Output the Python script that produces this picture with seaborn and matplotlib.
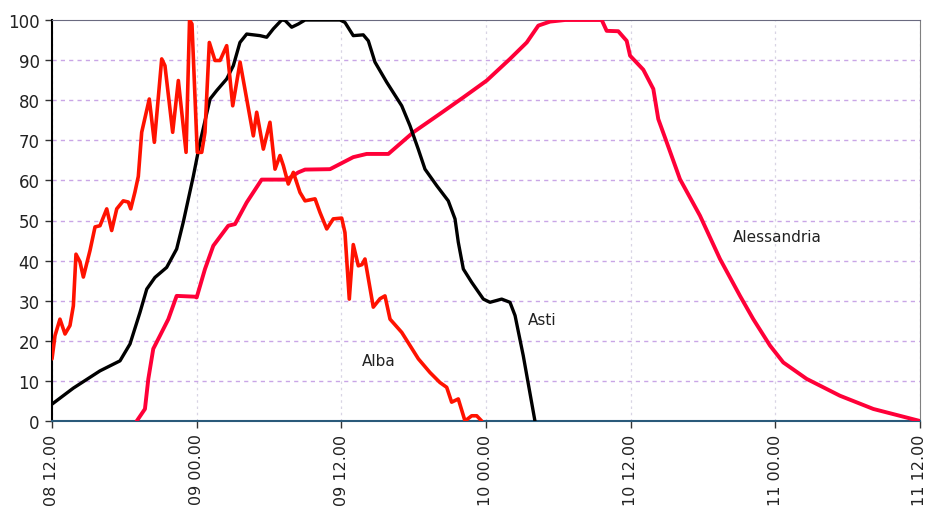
import numpy as np
import pandas as pd
import seaborn as sns
import matplotlib.pyplot as plt
import matplotlib.dates as mdates

# hours after 08 12.00, values in %
alba_h = [0.0, 0.25, 0.66, 1.08, 1.49, 1.77, 1.99, 2.32, 2.60, 3.15, 3.57, 3.98, 4.54, 4.95,
          5.37, 5.91, 6.33, 6.53, 6.88, 7.16, 7.44, 8.07, 8.49, 9.10, 9.37, 10.01, 10.48,
          11.12, 11.41, 11.61, 12.05, 12.42, 12.69, 13.05, 13.52, 13.94, 14.49, 14.99,
          15.60, 16.15, 16.70, 16.98, 17.53, 18.08, 18.50, 18.91, 19.19, 19.60, 20.02,
          20.57, 20.99, 21.82, 22.23, 22.79, 23.33, 24.03, 24.30, 24.66, 24.99, 25.41,
          25.71, 25.96, 26.65, 27.21, 27.62, 28.04, 29.01, 30.39, 31.35, 32.18, 32.74,
          33.15, 33.70, 34.26, 34.81, 35.23, 35.64]
alba_v = [15.5, 21.3, 25.4, 21.7, 23.8, 28.7, 41.6, 39.7, 35.9, 42.5, 48.4, 48.7, 52.9, 47.5,
          52.9, 54.9, 54.6, 52.9, 57.1, 61.0, 72.0, 80.3, 69.5, 90.3, 88.6, 72.0, 84.9,
          67.0, 100.0, 99.0, 67.0, 67.0, 72.0, 94.4, 89.9, 89.9, 93.6, 78.6,
          89.5, 80.3, 71.1, 77.0, 67.8, 74.5, 62.8, 66.2, 63.7, 59.1, 62.0,
          57.0, 54.9, 55.4, 52.0, 47.9, 50.4, 50.6, 47.0, 30.4, 44.0, 38.7,
          39.0, 40.4, 28.4, 30.5, 31.2, 25.4, 22.1, 15.5, 12.1, 9.6, 8.4,
          4.7, 5.5, 0.0, 1.3, 1.3, 0.0]

asti_h = [0.0, 1.77, 3.98, 5.64, 6.47, 7.30, 7.86, 8.54, 9.51, 10.34, 10.89, 11.72, 12.28,
          13.11, 13.66, 14.49, 15.04, 15.59, 16.15, 17.25, 17.81, 18.36, 19.05, 19.33,
          19.88, 20.43, 20.99, 23.33, 23.89, 24.30, 24.99, 25.82, 26.24, 26.79, 27.76,
          29.01, 29.70, 30.38, 30.94, 31.91, 32.87, 33.43, 33.70, 34.12, 34.81, 35.78,
          36.33, 37.30, 37.99, 38.41, 39.09, 40.06]
asti_v = [4.2, 8.2, 12.5, 15.0, 19.2, 27.1, 32.9, 35.8, 38.3, 42.9, 49.6, 61.0, 69.5,
          80.3, 82.4, 85.3, 88.6, 94.4, 96.5, 96.1, 95.7, 97.8, 100.0, 99.9,
          98.2, 99.0, 100.0, 100.0, 100.0, 99.4, 96.1, 96.3, 94.8, 89.5, 84.5,
          78.6, 73.6, 67.8, 62.8, 58.7, 54.9, 50.4, 44.6, 37.9, 34.6, 30.4,
          29.6, 30.4, 29.6, 26.3, 16.3, 0.0]

ales_h = [7.03, 7.71, 7.99, 8.40, 8.96, 9.65, 10.34, 11.86, 12.00, 12.69, 13.38, 14.62,
          15.18, 16.15, 17.39, 19.47, 20.43, 20.99, 23.06, 24.99, 26.10, 27.90, 29.97,
          32.18, 34.12, 36.06, 37.99, 39.38, 40.34, 41.31, 42.55, 45.60, 46.01, 46.97,
          47.67, 47.95, 49.05, 49.88, 50.29, 50.99, 52.09, 53.75, 55.41, 57.07, 58.17,
          59.56, 60.66, 62.60, 65.36, 68.13, 72.00]
ales_v = [0.0, 3.0, 10.5, 18.0, 21.3, 25.4, 31.2, 31.0, 30.8, 37.9, 43.7, 48.7,
          49.1, 54.5, 60.2, 60.2, 62.0, 62.7, 62.8, 65.8, 66.6, 66.6, 72.0,
          76.6, 80.7, 84.9, 90.3, 94.4, 98.6, 99.6, 100.0, 100.0, 97.3, 97.2,
          94.8, 91.1, 87.6, 82.8, 75.3, 69.5, 60.3, 51.2, 40.4, 31.2, 25.4,
          18.8, 14.6, 10.5, 6.3, 3.0, 0.0]

labels = ["Alba", "Asti", "Alessandria"]
label_h = [25.7, 39.5, 56.5]
label_v = [15.0, 25.4, 45.9]

base = pd.Timestamp("2005-10-08 12:00")


def to_time(hours):
    return base + pd.to_timedelta(np.array(hours), unit="h")


sns.set_style("white")
plt.rcParams["font.family"] = ["DejaVu Sans"]

fig = plt.figure(figsize=(9.27, 5.10), dpi=100)
ax = fig.add_axes([52 / 927, 1 - 422 / 510, 868 / 927, 401 / 510])

sns.lineplot(x=to_time(ales_h), y=ales_v, color="#ff0038", linewidth=2.8,
             estimator=None, ax=ax, zorder=3)
sns.lineplot(x=to_time(asti_h), y=asti_v, color="black", linewidth=2.4,
             estimator=None, ax=ax, zorder=4)
sns.lineplot(x=to_time(alba_h), y=alba_v, color="#ff1200", linewidth=2.6,
             estimator=None, ax=ax, zorder=5)

for name, h, v in zip(labels, label_h, label_v):
    ax.text(to_time([h])[0], v, name, fontsize=11, va="center", ha="left", color="#222222")

ax.set_xlim(base, base + pd.Timedelta(hours=72))
ax.set_ylim(0, 100)
ax.set_yticks(range(0, 101, 10))
ax.xaxis.set_major_locator(mdates.HourLocator(byhour=[0, 12]))
ax.xaxis.set_major_formatter(mdates.DateFormatter("%d %H.%M"))
plt.setp(ax.get_xticklabels(), rotation=90, fontsize=11.5)
plt.setp(ax.get_yticklabels(), fontsize=12)
ax.tick_params(axis="both", direction="out", length=5, width=1, colors="#333333",
               labelcolor="#222222", left=True, bottom=True, pad=4)

for y in range(10, 100, 10):
    ax.axhline(y, color="#c9a6e6", linestyle=(0, (3, 3)), linewidth=1, zorder=1)
ax.grid(axis="x", color="#d8d4e4", linestyle=(0, (2, 3)), linewidth=0.9)
ax.set_axisbelow(True)

ax.spines["left"].set_color("black")
ax.spines["left"].set_linewidth(1.5)
ax.spines["bottom"].set_color("#2a5a7a")
ax.spines["bottom"].set_linewidth(1.5)
ax.spines["top"].set_color("#6a6a80")
ax.spines["right"].set_color("#808080")
ax.set_xlabel("")
ax.set_ylabel("")

fig.savefig("out.png", dpi=100)
